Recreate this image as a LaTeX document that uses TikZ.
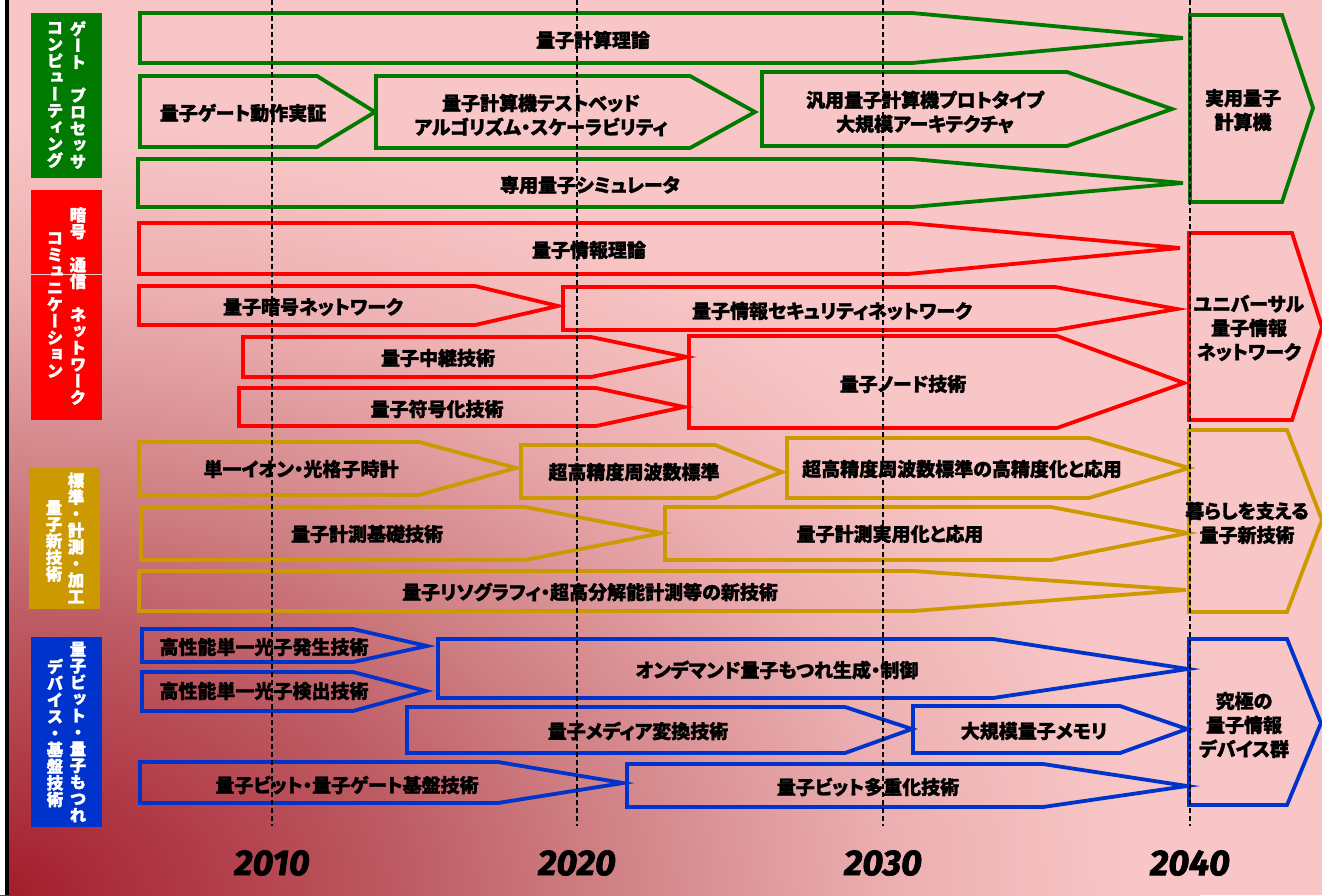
\documentclass[tikz,border=0pt]{standalone}
\usepackage{fontspec}
\setmainfont{Noto Sans CJK JP}[RawFeature=+palt, BoldFeatures={FakeBold=1.5}]
\newfontfamily\jpv{Noto Sans CJK JP}[RawFeature=+vert, BoldFeatures={FakeBold=1.5}]
\newfontfamily\yearfont{Fira Sans}[BoldItalicFeatures={FakeBold=2}]
\definecolor{bg0}{HTML}{A31C2B}
\definecolor{bg1}{HTML}{AD3340}
\definecolor{bg2}{HTML}{BD5A62}
\definecolor{bg3}{HTML}{CF8084}
\definecolor{bg4}{HTML}{EDB0B2}
\definecolor{bg5}{HTML}{F8C6C6}
\definecolor{gG}{HTML}{007A00}
\definecolor{rR}{HTML}{FF0000}
\definecolor{yY}{HTML}{CC9900}
\definecolor{bB}{HTML}{0033CC}
\pgfdeclareradialshading{bgrad}{\pgfpoint{0bp}{0bp}}{color(0bp)=(bg0); color(3bp)=(bg1); color(8.3bp)=(bg2); color(12.5bp)=(bg3); color(18.75bp)=(bg4); color(23.75bp)=(bg5); color(25bp)=(bg5); color(50bp)=(bg5)}
\tikzset{
  arr/.style={line width=3.8pt, line join=miter},
  lbl/.style={font=\bfseries\fontsize{19}{24}\selectfont, inner sep=0pt, align=center, text=black},
  vt/.style={font=\jpv\bfseries\fontsize{16.5}{16.6}\selectfont, inner sep=0pt, align=center, text=white},
  catbox/.style={inner sep=0pt, anchor=north west, draw=none},
  yearlbl/.style={font=\yearfont\bfseries\itshape\fontsize{36}{40}\selectfont, inner sep=0pt},
  dashline/.style={line width=1.1pt, dash pattern=on 5pt off 3pt, black}
}
% name, color, x1, ytop, ybottom, xshoulder, xtip, ytip
\newcommand\harrow[8]{%
  \draw[arr, draw=#2] (#3,#4) -- (#6,#4) -- (#7,#8) -- (#6,#5) -- (#3,#5) -- cycle;
  \coordinate (#1) at (#7,#8);}
\begin{document}
\begin{tikzpicture}[x=1pt,y=-1pt]
\useasboundingbox (0,0) rectangle (1322,895);
\fill[bg5] (0,0) rectangle (1322,895);
\begin{scope}
  \clip (0,0) rectangle (1322,895);
  \shade[shading=bgrad] (0,895) ellipse [x radius=1200pt, y radius=820pt];
\end{scope}
\fill[white] (0,0) rectangle (5,895);
\fill[black] (5,0) rectangle (9,895);

% category boxes
\node[catbox, fill=gG, minimum width=71pt, minimum height=165pt] (catG) at (31,13) {};
\node[catbox, fill=rR, minimum width=71pt, minimum height=230pt] (catR) at (31,190) {};
\node[catbox, fill=yY, minimum width=71pt, minimum height=141pt] (catY) at (29,468) {};
\node[catbox, fill=bB, minimum width=71pt, minimum height=190pt] (catB) at (31,637) {};
\draw[draw=bg4!60!white, line width=0.8pt] (catR.west |- 0,274) coordinate (sepA) -- (catR.east |- 0,274) coordinate (sepB);

\node[vt] (catGa) at (78,95) {ゲ\\ー\\ト\\　\\プ\\ロ\\セ\\ッ\\サ};
\node[vt] (catGb) at (55,95) {コ\\ン\\ピ\\ュ\\ー\\テ\\ィ\\ン\\グ};
\node[vt] (catRa) at (78,306) {暗\\号\\　\\通\\信\\　\\ネ\\ッ\\ト\\ワ\\ー\\ク};
\node[vt] (catRb) at (55,305) {コ\\ミ\\ュ\\ニ\\ケ\\ー\\シ\\ョ\\ン};
\node[vt] (catYa) at (76,538) {標\\準\\・\\計\\測\\・\\加\\工};
\node[vt] (catYb) at (54,541) {量\\子\\新\\技\\術};
\node[vt] (catBa) at (78,732) {量\\子\\ビ\\ッ\\ト\\・\\量\\子\\も\\つ\\れ};
\node[vt] (catBb) at (55,733) {デ\\バ\\イ\\ス\\・\\基\\盤\\技\\術};

% green
\harrow{tA1}{gG}{140}{13}{63}{912}{1183}{38}
\harrow{tA2}{gG}{140}{76}{147}{317}{375}{112}
\harrow{tA3}{gG}{376}{76}{148}{690}{755}{112}
\harrow{tA4}{gG}{762}{72}{146}{1067}{1172}{109}
\harrow{tA5}{gG}{138}{159}{207}{912}{1183}{183}
\harrow{tAE}{gG}{1190}{15}{202}{1282}{1313}{108}
\node[lbl] (A1) at (593,40) {量子計算理論};
\node[lbl] (A2) at (243,113) {量子ゲート動作実証};
\node[lbl] (A3) at (541,115) {量子計算機テストベッド\\アルゴリズム・スケーラビリティ};
\node[lbl] (A4) at (925,112) {汎用量子計算機プロトタイプ\\大規模アーキテクチャ};
\node[lbl] (A5) at (590,185) {専用量子シミュレータ};
\node[lbl] (AE) at (1243,110) {実用量子\\計算機};

% red
\harrow{tB1}{rR}{139}{223}{274}{908}{1180}{248}
\harrow{tB2}{rR}{139}{286}{325}{475}{558}{306}
\harrow{tB3}{rR}{563}{287}{330}{1055}{1177}{309}
\harrow{tB4}{rR}{243}{337}{377}{591}{687}{357}
\harrow{tB5}{rR}{239}{388}{426}{596}{684}{407}
\harrow{tB6}{rR}{689}{336}{428}{1057}{1184}{383}
\harrow{tBE}{rR}{1189}{233}{420}{1292}{1322}{327}
\node[lbl] (B1) at (589,250) {量子情報理論};
\node[lbl] (B2) at (313,307) {量子暗号ネットワーク};
\node[lbl] (B3) at (832,311) {量子情報セキュリティネットワーク};
\node[lbl] (B4) at (438,358) {量子中継技術};
\node[lbl] (B5) at (437,409) {量子符号化技術};
\node[lbl] (B6) at (903,384) {量子ノード技術};
\node[lbl] (BE) at (1249,328) {ユニバーサル\\量子情報\\ネットワーク};

% gold
\harrow{tC1}{yY}{139}{442}{495}{419}{516}{468}
\harrow{tC2}{yY}{521}{445}{498}{715}{782}{472}
\harrow{tC3}{yY}{787}{438}{498}{1089}{1189}{468}
\harrow{tC4}{yY}{141}{507}{560}{525}{662}{533}
\harrow{tC5}{yY}{665}{507}{560}{1051}{1188}{533}
\harrow{tC6}{yY}{139}{571}{611}{913}{1186}{590}
\harrow{tCE}{yY}{1189}{430}{612}{1287}{1322}{520}
\node[lbl] (C1) at (301,469) {単一イオン・光格子時計};
\node[lbl] (C2) at (634,472) {超高精度周波数標準};
\node[lbl] (C3) at (962,469) {超高精度周波数標準の高精度化と応用};
\node[lbl] (C4) at (367,534) {量子計測基礎技術};
\node[lbl] (C5) at (890,534) {量子計測実用化と応用};
\node[lbl] (C6) at (590,592) {量子リソグラフィ・超高分解能計測等の新技術};
\node[lbl] (CE) at (1247,523) {暮らしを支える\\量子新技術};

% blue
\harrow{tD1}{bB}{142}{629}{662}{353}{427}{646}
\harrow{tD2}{bB}{142}{672}{711}{353}{426}{691}
\harrow{tD3}{bB}{438}{639}{698}{993}{1188}{669}
\harrow{tD4}{bB}{407}{707}{753}{845}{912}{729}
\harrow{tD5}{bB}{913}{706}{753}{1120}{1187}{729}
\harrow{tD6}{bB}{140}{762}{803}{498}{623}{783}
\harrow{tD7}{bB}{627}{764}{807}{1043}{1187}{786}
\harrow{tDE}{bB}{1189}{639}{805}{1287}{1321}{723}
\node[lbl] (D1) at (264,647) {高性能単一光子発生技術};
\node[lbl] (D2) at (264,691) {高性能単一光子検出技術};
\node[lbl] (D3) at (777,670) {オンデマンド量子もつれ生成・制御};
\node[lbl] (D4) at (638,731) {量子メディア変換技術};
\node[lbl] (D5) at (1034,731) {大規模量子メモリ};
\node[lbl] (D6) at (347,785) {量子ビット・量子ゲート基盤技術};
\node[lbl] (D7) at (868,787) {量子ビット多重化技術};
\node[lbl] (DE) at (1244,725) {究極の\\量子情報\\デバイス群};

% years and dashed lines
\foreach \xx/\yr in {272/2010, 577/2020, 883/2030, 1190/2040}{
  \coordinate (top\yr) at (\xx,0);
  \coordinate (bot\yr) at (\xx,826);
  \draw[dashline] (top\yr) -- (bot\yr);
  \node[yearlbl] (y\yr) at (\xx,863) {\yr};
}
\end{tikzpicture}
\end{document}
